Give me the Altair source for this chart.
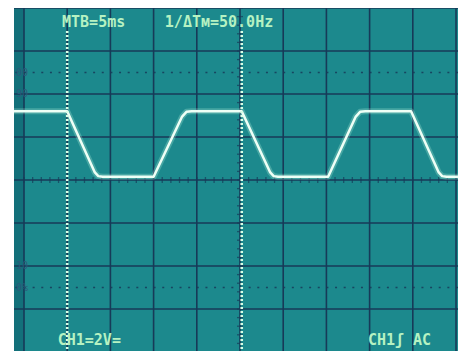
import altair as alt
import pandas as pd

# ---- data ----
# time in ms (5 ms/div, 10 div), voltage in V (2 V/div, 8 div)
wave_t = [-1.16, 5.0, 8.2, 8.6, 9.1, 15.0, 18.3, 18.8, 19.4, 25.2, 28.5, 28.9, 29.4,
          35.2, 38.4, 38.9, 39.5, 44.8, 48.0, 48.4, 48.9, 50.23]
wave_v = [3.2, 3.2, 0.35, 0.18, 0.15, 0.15, 2.95, 3.17, 3.2, 3.2, 0.35, 0.18, 0.15,
          0.15, 2.95, 3.17, 3.2, 3.2, 0.35, 0.18, 0.15, 0.15]

grid_t = [0, 5, 10, 15, 20, 25, 30, 35, 40, 45, 50]
grid_v = [-8, -6, -4, -2, 0, 2, 4, 6, 8]
minor_t = list(range(0, 51))
minor_v = [round(-8 + 0.4 * i, 2) for i in range(41)]
pct_v = [5, -5]
cursor_t = [5.0, 25.2]

pct_labels = ["100", "90", "10", "0%"]
pct_label_v = [5, 4, -4, -5]

top_labels = ["MTB=5ms", "1/\u0394T\u043c=50.0Hz"]
top_label_t = [4.4, 16.3]
bottom_labels = ["CH1=2V=", "CH1\u0283 AC"]
bottom_label_t = [3.9, 39.8]

XMIN, XMAX = -1.157, 50.23
YMIN, YMAX = -7.953, 8

TEAL = "#1c898d"
BAND = "#13707a"
GRID = "#173a58"
TEXT = "#b6f2c2"
TRACE = "#eefff6"
LABEL = "#2c5a7a"
FONT = "DejaVu Sans Mono"

xs = alt.Scale(domain=[XMIN, XMAX], nice=False, zero=False)
ys = alt.Scale(domain=[YMIN, YMAX], nice=False, zero=False)

def X(f="t"):
    return alt.X(f"{f}:Q", scale=xs, axis=None)

def Y(f="v"):
    return alt.Y(f"{f}:Q", scale=ys, axis=None)

band = alt.Chart(pd.DataFrame({"t": [XMIN], "t2": [0.0], "v": [YMAX], "v2": [YMIN]})).mark_rect(
    color=BAND).encode(x=X(), x2="t2:Q", y=Y(), y2="v2:Q")

vgrid = alt.Chart(pd.DataFrame({"t": grid_t})).mark_rule(color=GRID, strokeWidth=1.6).encode(x=X())
hgrid = alt.Chart(pd.DataFrame({"v": grid_v})).mark_rule(color=GRID, strokeWidth=1.6, clip=True).encode(y=Y())

hminor = alt.Chart(pd.DataFrame({"t": minor_t, "v": [0] * len(minor_t)})).mark_tick(
    color=GRID, orient="vertical", size=6, thickness=1.3).encode(x=X(), y=Y())
vminor = alt.Chart(pd.DataFrame({"t": [25] * len(minor_v), "v": minor_v})).mark_tick(
    color=GRID, orient="horizontal", size=6, thickness=1.3, clip=True).encode(x=X(), y=Y())

pct = alt.Chart(pd.DataFrame({"v": pct_v})).mark_rule(
    color=GRID, strokeWidth=1.6, strokeDash=[2, 6.64], opacity=0.85).encode(y=Y())

pct_text = alt.Chart(pd.DataFrame({"t": [0.46] * 4, "v": pct_label_v, "label": pct_labels})).mark_text(
    align="right", baseline="middle", font=FONT, fontSize=10, color=LABEL, clip=True).encode(
    x=X(), y=Y(), text="label:N")

glow = alt.Chart(pd.DataFrame({"t": wave_t, "v": wave_v})).mark_line(
    color="#c9ffe6", strokeWidth=6, opacity=0.25, strokeJoin="round").encode(x=X(), y=Y())
trace = alt.Chart(pd.DataFrame({"t": wave_t, "v": wave_v})).mark_line(
    color=TRACE, strokeWidth=2.5, strokeJoin="round").encode(x=X(), y=Y())

cursors = alt.Chart(pd.DataFrame({"t": cursor_t, "v": [6.93] * 2, "v2": [YMIN] * 2})).mark_rule(
    color="#d9ffe6", strokeWidth=2.6, strokeDash=[2, 2]).encode(
    x=X(), y=Y(), y2="v2:Q")

top_text = alt.Chart(pd.DataFrame({"t": top_label_t, "v": [7.35] * 2, "label": top_labels})).mark_text(
    align="left", baseline="middle", font=FONT, fontSize=15, fontWeight="bold", color=TEXT).encode(
    x=X(), y=Y(), text="label:N")
bottom_text = alt.Chart(pd.DataFrame({"t": bottom_label_t, "v": [-7.45] * 2, "label": bottom_labels})).mark_text(
    align="left", baseline="middle", font=FONT, fontSize=15, fontWeight="bold", color=TEXT).encode(
    x=X(), y=Y(), text="label:N")

chart = alt.layer(
    band, vgrid, hgrid, hminor, vminor, pct, pct_text, glow, trace, cursors, top_text, bottom_text
).properties(
    width=444, height=343, autosize="none",
    padding={"left": 6, "top": 0, "right": 0, "bottom": 0},
    background="white",
).configure_view(fill=TEAL, strokeWidth=0)

chart.save("out.html", embed_options={"renderer": "svg", "actions": False})
